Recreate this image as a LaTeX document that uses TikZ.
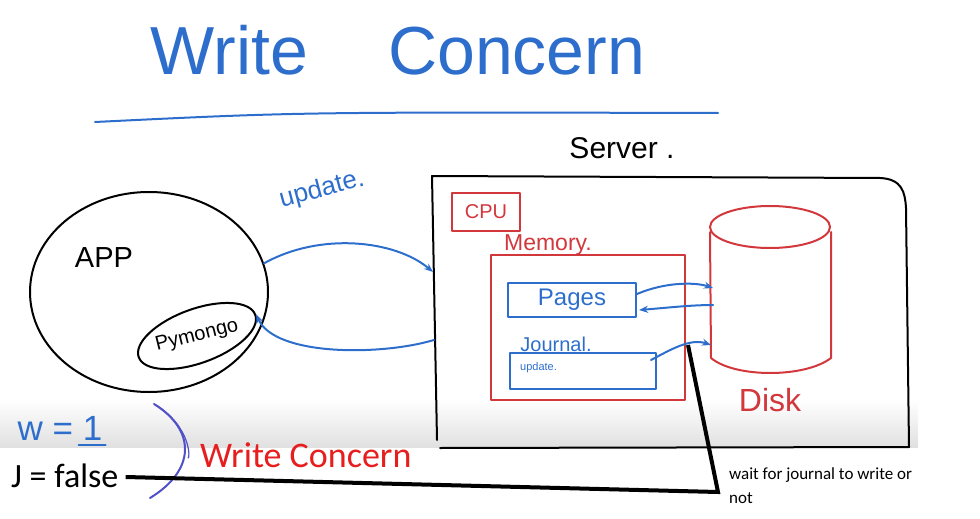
\documentclass[tikz,border=0pt]{standalone}
\usepackage{fontspec}
\setmainfont{Carlito}
\newfontfamily\hand{Liberation Sans}
\usetikzlibrary{arrows.meta,shapes.geometric,calc}
\definecolor{penblue}{RGB}{45,110,205}
\definecolor{penred}{RGB}{210,55,60}
\definecolor{wcred}{RGB}{230,30,30}
\definecolor{bracec}{RGB}{80,80,200}
\newcommand{\fsz}[1]{\fontsize{#1}{#1}\selectfont}
\begin{document}
\begin{tikzpicture}[x=1pt,y=-1pt,
  pen/.style={line width=2pt, line cap=round, line join=round},
  bluepen/.style={pen, draw=penblue},
  redpen/.style={pen, draw=penred},
  blackpen/.style={pen, draw=black},
  flow/.style={bluepen, -{Stealth[length=9pt,width=7pt]}},
  lbl/.style={inner sep=0pt, font=\hand}]
\useasboundingbox (0,0) rectangle (980,519);
\shade[top color=white, bottom color=black!12] (0,400) rectangle (918,447);

% title
\node[lbl, text=penblue, font=\hand\fsz{68}] (title) at (398,50) {Write\hspace{80pt}Concern};
\draw[bluepen] (95,122) .. controls (300,112) .. (718,113);

% server
\node[lbl, font=\hand\fsz{30}] (srvlbl) at (622,148) {Server .};
\draw[blackpen] (437,440) -- (432,176) -- (880,178) .. controls (902,179) and (905,192) .. (906,208) -- (909,447) -- (440,448);
\coordinate (srvIn) at (433,272);
\coordinate (srvOut) at (434,340);

\node[redpen, draw, text=penred, font=\hand\fsz{20}, minimum width=68, minimum height=38] (cpu) at (486,212) {CPU};
\node[lbl, text=penred, font=\hand\fsz{23}] (memlbl) at (548,245) {Memory.};
\node[redpen, draw, minimum width=194, minimum height=145] (mem) at (588,327) {};
\node[bluepen, draw, minimum width=128, minimum height=34, text=penblue, font=\hand\fsz{24}] (pages) at (572,300) {Pages};
\node[lbl, text=penblue, font=\hand\fsz{20}] (jlbl) at (556,344) {Journal.};
\node[bluepen, draw, minimum width=146, minimum height=36] (jbox) at (583,371) {};
\node[lbl, text=penblue, font=\hand\fsz{11}, anchor=west] (jtxt) at (520,368) {update.};

% disk
\draw[redpen] (770,227) ellipse [x radius=60, y radius=21];
\draw[redpen] (710,232) -- (711,358) .. controls (735,378) and (805,378) .. (831,358) -- (831,232);
\coordinate (diskA) at (713,288);
\coordinate (diskB) at (713,305);
\coordinate (diskC) at (711,345);
\node[lbl, text=penred, font=\hand\fsz{32}] (disklbl) at (770,400) {Disk};

\draw[flow] ($(pages.east)+(0,-6)$) .. controls (665,282) and (695,282) .. (diskA);
\draw[flow] (diskB) .. controls (690,305) and (665,308) .. ($(pages.east)+(2,10)$);
\draw[flow] ($(jbox.north east)+(-6,8)$) .. controls (670,350) and (690,338) .. (diskC);

% app
\node[ellipse, blackpen, draw, minimum width=238, minimum height=200] (app) at (149,292) {};
\node[lbl, font=\hand\fsz{29}] (applbl) at (104,258) {APP};
\node[ellipse, blackpen, draw, rotate=20, minimum width=124, minimum height=54] (pym) at (197,336) {};
\node[lbl, font=\hand\fsz{20}, rotate=14] (pymtxt) at (pym.center) {Pymongo};

\node[lbl, text=penblue, font=\hand\fsz{26}, rotate=15] (updlbl) at (322,190) {update.};
\draw[flow] (app.14) .. controls (320,232) and (395,240) .. (srvIn);
\draw[flow] (srvOut) .. controls (380,356) and (275,356) .. (pym.east);

% bottom notes
\node[lbl, text=penblue, font=\hand\fsz{35}] (w) at (60,428) {w = 1};
\draw[bluepen] ($(w.south east)+(-24,5)$) -- ($(w.south east)+(3,5)$);
\draw[pen, draw=bracec] (154,404) .. controls (196,430) and (196,470) .. (150,498);
\draw[pen, draw=bracec, line width=1.2pt] (156,405) .. controls (192,428) and (190,460) .. (188,458);

\node[lbl, text=wcred, font=\fsz{36}, anchor=west] (wc) at (200,455) {Write Concern};
\node[lbl, font=\fsz{34}, anchor=west] (jf) at (11,476) {J = false};
\coordinate (bend) at (718,492);
\coordinate (jtop) at (688,345);
\draw[line width=4pt] ($(jf.east)+(7,1)$) -- (bend) -- (jtop);
\node[lbl, font=\fontsize{17}{24}\selectfont, anchor=north west, align=left] (wait) at (729,467) {wait for journal to write or\\not};
\end{tikzpicture}
\end{document}
